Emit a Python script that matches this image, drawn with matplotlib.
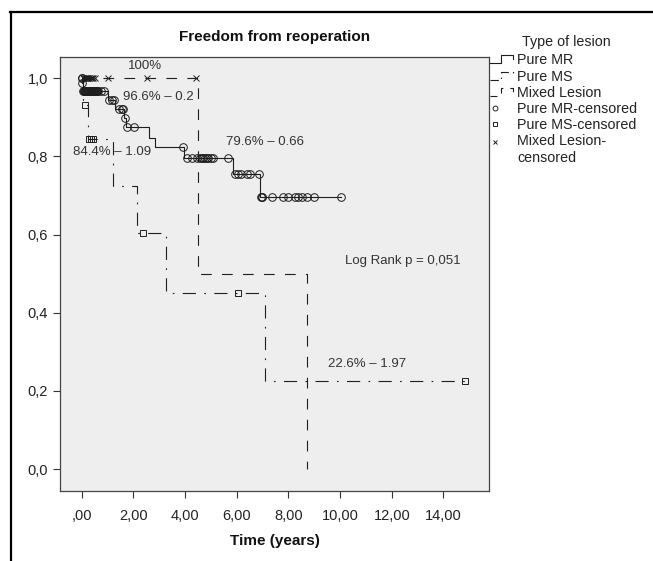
import numpy as np
import matplotlib
matplotlib.use('Agg')
import matplotlib.pyplot as plt
from matplotlib.lines import Line2D
from matplotlib.legend_handler import HandlerBase

plt.rcParams['font.family'] = ['Liberation Sans', 'DejaVu Sans']
plt.rcParams['lines.scale_dashes'] = False

# Kaplan-Meier steps: time (years) / freedom from reoperation
mr_times = [0.0, 0.02, 0.05, 1.00, 1.30, 1.65, 1.72, 2.62, 2.84, 3.97, 5.85, 6.91, 10.02]
mr_surv = [1.0, 0.988, 0.966, 0.944, 0.922, 0.899, 0.874, 0.848, 0.823, 0.796, 0.756, 0.697, 0.697]
mr_censored = [0.00, 0.01, 0.03, 0.06, 0.08, 0.10, 0.12, 0.14, 0.16, 0.18, 0.20, 0.22,
               0.24, 0.26, 0.28, 0.30, 0.32, 0.34, 0.36, 0.38, 0.40, 0.42, 0.44, 0.46,
               0.48, 0.50, 0.52, 0.54, 0.56, 0.58, 0.60, 0.62, 0.74, 0.86,
               1.06, 1.16, 1.25, 1.45, 1.55, 1.61, 1.68, 1.77, 2.03, 3.93, 4.06, 4.26,
               4.45, 4.58, 4.64, 4.70, 4.77, 4.83, 4.90, 4.99, 5.09, 5.67, 5.92, 6.05,
               6.18, 6.41, 6.51, 6.87, 6.95, 6.97, 6.99, 7.35, 7.80, 7.97, 8.25, 8.38,
               8.51, 8.70, 8.99, 10.02]

ms_times = [0.0, 0.06, 0.23, 1.22, 2.13, 3.26, 7.08, 14.85]
ms_surv = [1.0, 0.931, 0.844, 0.724, 0.603, 0.451, 0.226, 0.226]
ms_censored = [0.12, 0.28, 0.34, 0.44, 2.38, 6.06, 14.85]

mx_times = [0.0, 4.49, 8.70]
mx_surv = [1.0, 0.5, 0.0]
mx_censored = [0.06, 0.10, 0.14, 0.18, 0.22, 0.26, 0.30, 0.34, 0.38, 0.42,
               0.51, 1.03, 2.54, 4.42]

x_ticks = [0, 2, 4, 6, 8, 10, 12, 14]
x_tick_labels = [',00', '2,00', '4,00', '6,00', '8,00', '10,00', '12,00', '14,00']
y_ticks = [0.0, 0.2, 0.4, 0.6, 0.8, 1.0]
y_tick_labels = ['0,0', '0,2', '0,4', '0,6', '0,8', '1,0']

series_labels = ['Pure MR', 'Pure MS', 'Mixed Lesion', 'Pure MR-censored',
                 'Pure MS-censored', 'Mixed Lesion-\ncensored']

# (text, x, y, ha)
annotations = [
    ('100%', 2.45, 1.030, 'center'),
    ('96.6% \u2013 0.2', 1.61, 0.952, 'left'),
    ('84.4% \u2013 1.09', 1.16, 0.812, 'center'),
    ('79.6% \u2013 0.66', 7.10, 0.837, 'center'),
    ('Log Rank p = 0,051', 12.44, 0.533, 'center'),
    ('22.6% \u2013 1.97', 11.05, 0.2685, 'center'),
]

INK = '#1e1e1e'
LW = 0.8
SOLID = '-'
DASHED = (0, (7.7, 7.4))
DASHDOT = (0, (9.5, 6, 1.2, 6))
LEG_FS = 10.3


def surv_at(times, surv, t):
    idx = np.searchsorted(times, t, side='right') - 1
    return np.asarray(surv)[idx]


class StepHandler(HandlerBase):
    """SPSS style legend keys: a little step for lines, a marker at the left otherwise."""

    def __init__(self, ls=None, legend_dash=None, yshift=0.0, **kw):
        super().__init__(**kw)
        self.ls = ls
        self.legend_dash = legend_dash
        self.yshift = yshift

    def create_artists(self, legend, orig, xdescent, ydescent, width, height,
                       fontsize, trans):
        x0, y0 = -xdescent, -ydescent + self.yshift
        if self.ls is None:
            art = Line2D([x0 + 0.2 * width], [y0 + 0.5 * height], linestyle='none',
                         marker=orig.get_marker(), markersize=3.5,
                         markerfacecolor='none', markeredgecolor=INK,
                         markeredgewidth=0.7)
        else:
            xs = [0.0, 0.43, 0.43, 0.93, 0.93]
            ys = [0.1, 0.1, 0.9, 0.9, 0.5]
            art = Line2D([x0 + v * width for v in xs], [y0 + v * height for v in ys],
                         color=INK, lw=LW, linestyle=self.legend_dash or self.ls)
        art.set_transform(trans)
        return [art]


fig = plt.figure(figsize=(6.53, 5.61), dpi=100)
ax = fig.add_axes([0.0919, 0.1248, 0.6577, 0.7742])
ax.set_facecolor('#eeeeee')

l_mr, = ax.step(mr_times, mr_surv, where='post', color=INK, lw=LW, zorder=4)
l_ms, = ax.step(ms_times, ms_surv, where='post', color=INK, lw=LW, linestyle=DASHDOT, zorder=3)
l_mx, = ax.step(mx_times, mx_surv, where='post', color=INK, lw=LW, linestyle=DASHED, zorder=3)

c_mr, = ax.plot(mr_censored, surv_at(mr_times, mr_surv, mr_censored), 'o', ms=5.5,
                mfc='none', mec=INK, mew=0.7, zorder=5)
c_ms, = ax.plot(ms_censored, surv_at(ms_times, ms_surv, ms_censored), 's', ms=3.8,
                mfc='none', mec=INK, mew=0.7, zorder=5)
c_mx, = ax.plot(mx_censored, surv_at(mx_times, mx_surv, mx_censored), 'x', ms=3.8,
                color=INK, mew=0.7, zorder=5)

for text, x, y, ha in annotations:
    ax.text(x, y, text, ha=ha, va='center', fontsize=9.5, color='#333333')

ax.set_xlim(-0.84, 15.78)
ax.set_ylim(-0.056, 1.055)
ax.set_xticks(x_ticks)
ax.set_xticklabels(x_tick_labels)
ax.set_yticks(y_ticks)
ax.set_yticklabels(y_tick_labels)
ax.tick_params(axis='both', direction='out', length=5, width=0.8, color='#333333',
               labelsize=10.5, labelcolor='#222222')
ax.tick_params(axis='x', pad=8)
ax.tick_params(axis='y', pad=3.5)
for sp in ax.spines.values():
    sp.set_color('#444444')
    sp.set_linewidth(0.9)

ax.set_title('Freedom from reoperation', fontsize=11, fontweight='bold', pad=11,
             color='#111111')
ax.set_xlabel('Time (years)', fontsize=11, fontweight='bold', labelpad=8, color='#111111')

handles = [l_mr, l_ms, l_mx, c_mr, c_ms, c_mx]
leg = fig.legend(handles, series_labels, loc='upper left',
                 bbox_to_anchor=(490 / 653, 1 - 53.5 / 561),
                 frameon=False, borderpad=0, borderaxespad=0, handlelength=1.75,
                 handletextpad=0.15, labelspacing=0.15, fontsize=LEG_FS,
                 handler_map={l_mr: StepHandler(ls=SOLID),
                              l_ms: StepHandler(ls=DASHDOT, legend_dash=(0, (6, 3, 1, 3))),
                              l_mx: StepHandler(ls=DASHED, legend_dash=(0, (5, 5))),
                              c_mr: StepHandler(),
                              c_ms: StepHandler(),
                              c_mx: StepHandler(yshift=0.6 * LEG_FS)})
for t in leg.get_texts():
    t.set_color('#222222')
    t.set_linespacing(1.25)
fig.text(566 / 653, 1 - 41.7 / 561, 'Type of lesion', ha='center', va='center',
         fontsize=LEG_FS, color='#222222')

# outer frame, top and left only
fig.add_artist(Line2D([10 / 653, 1.0], [1 - 12 / 561, 1 - 12 / 561],
                      transform=fig.transFigure, color='black', lw=1.6))
fig.add_artist(Line2D([11 / 653, 11 / 653], [0.0, 1 - 12 / 561],
                      transform=fig.transFigure, color='black', lw=1.6))

fig.savefig('out.png', dpi=100)
